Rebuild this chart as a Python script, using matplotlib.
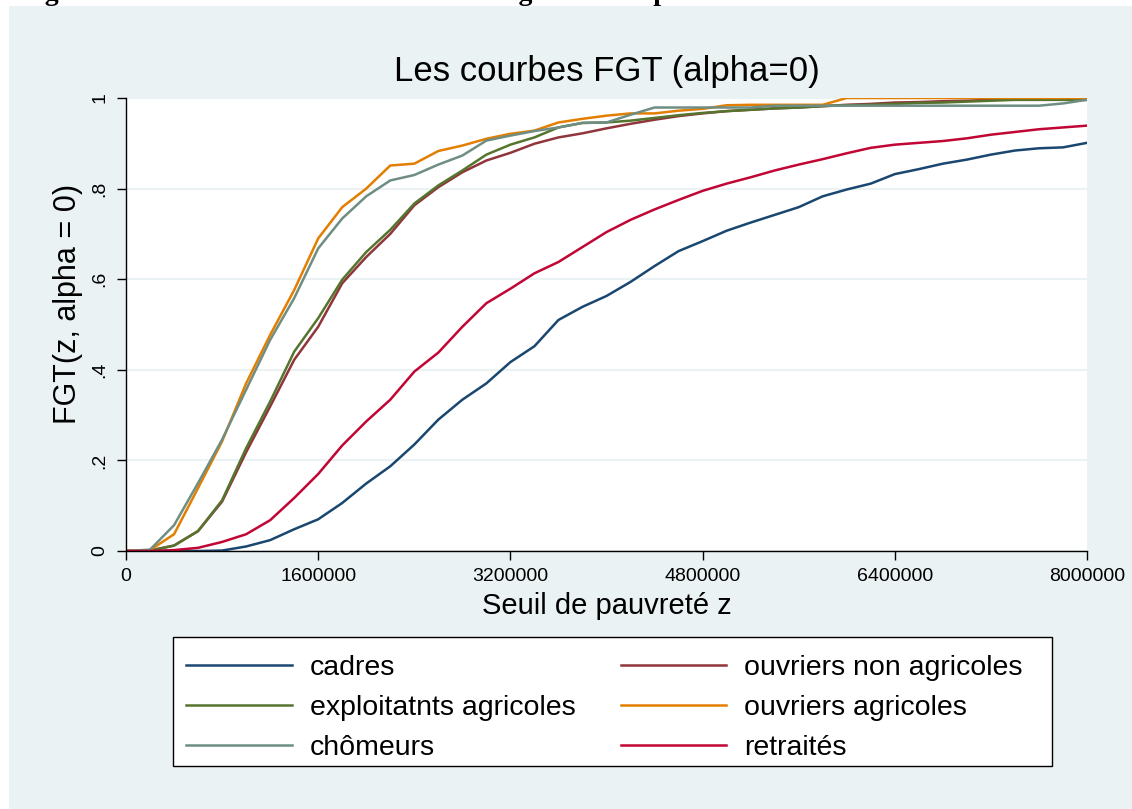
import matplotlib
matplotlib.use('Agg')
import matplotlib.pyplot as plt
from matplotlib.patches import Rectangle

plt.rcParams['font.family'] = ['Liberation Sans', 'DejaVu Sans']

# seuil de pauvrete z, en milliers
z_k = [0, 200, 400, 600, 800, 1000, 1200, 1400, 1600, 1800,
       2000, 2200, 2400, 2600, 2800, 3000, 3200, 3400, 3600, 3800,
       4000, 4200, 4400, 4600, 4800, 5000, 5200, 5400, 5600, 5800,
       6000, 6200, 6400, 6600, 6800, 7000, 7200, 7400, 7600, 7800,
       8000]

cadres = [0, 0, 0, 0, 0.001, 0.010, 0.024, 0.048, 0.070, 0.106,
          0.149, 0.187, 0.235, 0.290, 0.334, 0.370, 0.417, 0.452, 0.510, 0.539,
          0.563, 0.594, 0.629, 0.662, 0.684, 0.707, 0.725, 0.742, 0.759, 0.783,
          0.798, 0.811, 0.832, 0.843, 0.855, 0.864, 0.875, 0.884, 0.889, 0.891,
          0.901]
ouv_non_agri = [0, 0.001, 0.012, 0.044, 0.109, 0.218, 0.319, 0.422, 0.495, 0.591,
                0.649, 0.700, 0.763, 0.803, 0.836, 0.862, 0.879, 0.899, 0.913, 0.922,
                0.933, 0.943, 0.952, 0.960, 0.966, 0.971, 0.974, 0.977, 0.979, 0.982,
                0.985, 0.987, 0.990, 0.991, 0.993, 0.994, 0.996, 0.996, 0.996, 0.996,
                0.996]
exploitants = [0, 0.001, 0.012, 0.044, 0.112, 0.227, 0.330, 0.440, 0.514, 0.599,
               0.660, 0.709, 0.767, 0.807, 0.840, 0.875, 0.897, 0.913, 0.935, 0.945,
               0.946, 0.950, 0.956, 0.962, 0.967, 0.971, 0.974, 0.977, 0.979, 0.982,
               0.984, 0.985, 0.987, 0.989, 0.990, 0.992, 0.994, 0.996, 0.996, 0.996,
               0.996]
ouv_agri = [0, 0.002, 0.037, 0.139, 0.242, 0.370, 0.477, 0.576, 0.690, 0.759,
            0.800, 0.851, 0.855, 0.883, 0.895, 0.910, 0.921, 0.928, 0.946, 0.954,
            0.961, 0.966, 0.966, 0.972, 0.976, 0.984, 0.985, 0.985, 0.985, 0.985,
            1.0, 1.0, 1.0, 1.0, 1.0, 1.0, 1.0, 1.0, 1.0, 1.0,
            1.0]
chomeurs = [0, 0.003, 0.057, 0.150, 0.246, 0.356, 0.466, 0.558, 0.668, 0.734,
            0.783, 0.818, 0.830, 0.853, 0.873, 0.906, 0.917, 0.927, 0.935, 0.945,
            0.946, 0.963, 0.979, 0.979, 0.979, 0.979, 0.979, 0.983, 0.983, 0.983,
            0.983, 0.983, 0.983, 0.983, 0.983, 0.983, 0.983, 0.983, 0.983, 0.988,
            0.996]
retraites = [0, 0, 0.002, 0.007, 0.020, 0.037, 0.068, 0.117, 0.170, 0.233,
             0.286, 0.334, 0.396, 0.438, 0.495, 0.547, 0.579, 0.613, 0.638, 0.671,
             0.704, 0.731, 0.754, 0.775, 0.795, 0.811, 0.825, 0.840, 0.853, 0.865,
             0.878, 0.890, 0.897, 0.901, 0.905, 0.911, 0.919, 0.925, 0.931, 0.935,
             0.939]

x_ticks = [0, 1600000, 3200000, 4800000, 6400000, 8000000]
x_labels = ['0', '1600000', '3200000', '4800000', '6400000', '8000000']
y_ticks = [0, 0.2, 0.4, 0.6, 0.8, 1]
y_labels = ['0', '.2', '.4', '.6', '.8', '1']

# ordre de trace (stata), puis ordre de la legende
series = [
    ('cadres', cadres, '#1A476F'),
    ('ouvriers non agricoles', ouv_non_agri, '#90353B'),
    ('exploitatnts agricoles', exploitants, '#55752F'),
    ('ouvriers agricoles', ouv_agri, '#E37E00'),
    ('chômeurs', chomeurs, '#6E8E84'),
    ('retraités', retraites, '#C10534'),
]
legend_order = [0, 2, 4, 1, 3, 5]

W, H = 1132, 809
bg = '#EAF2F3'

fig = plt.figure(figsize=(W / 100, H / 100), dpi=100)
fig.patch.set_facecolor('white')
fig.add_artist(Rectangle((9 / W, 0), 1 - 9 / W, (H - 6) / H,
                         transform=fig.transFigure, facecolor=bg,
                         edgecolor='none', zorder=0))

# legende de la figure (coupee en haut, comme sur l'image d'origine)
fig.text(20 / W, 1.0,
         'Figure 4.4 : Les courbes FGT selon la catégorie socio-professionnelle',
         family=['Liberation Serif', 'DejaVu Serif'], fontweight='bold',
         fontsize=20, va='baseline', ha='left', zorder=5)

ax = fig.add_axes([126 / W, 258 / H, 961 / W, 453 / H])
ax.set_facecolor('white')

z = [v * 1000 for v in z_k]
handles = []
for name, vals, col in series:
    ln, = ax.plot(z, vals, color=col, lw=1.8, label=name)
    handles.append(ln)

ax.set_xlim(0, 8000000)
ax.set_ylim(0, 1)
ax.set_xticks(x_ticks)
ax.set_xticklabels(x_labels)
ax.set_yticks(y_ticks)
ax.set_yticklabels(y_labels, rotation=90, va='center')
ax.tick_params(direction='out', length=6.5, width=1, labelsize=14, pad=6)
ax.yaxis.grid(True, color=bg, lw=1.5)
ax.set_axisbelow(True)
for s in ['top', 'right']:
    ax.spines[s].set_visible(False)
for s in ['left', 'bottom']:
    ax.spines[s].set_color('black')
    ax.spines[s].set_linewidth(1)

fig.text(606.5 / W, 1 - 72 / H, 'Les courbes FGT (alpha=0)', fontsize=25,
         ha='center', va='center')
fig.text(606.5 / W, 1 - 606 / H, 'Seuil de pauvreté z', fontsize=21,
         ha='center', va='center')
fig.text(68 / W, 1 - 304 / H, 'FGT(z, alpha = 0)', fontsize=22,
         rotation=90, ha='center', va='center')

# cadre de la legende
fig.add_artist(Rectangle((173 / W, 1 - 766 / H), 879 / W, 129 / H,
                         transform=fig.transFigure, facecolor='white',
                         edgecolor='black', lw=1, zorder=1))
fig.legend([handles[i] for i in legend_order],
           [series[i][0] for i in legend_order],
           ncol=2, loc='center', bbox_to_anchor=(604.5 / W, 1 - 708 / H),
           frameon=False, fontsize=20.5, handlelength=3.7, handletextpad=0.63,
           columnspacing=1.6, labelspacing=0.5, borderpad=0)

fig.savefig('out.png', dpi=100)
